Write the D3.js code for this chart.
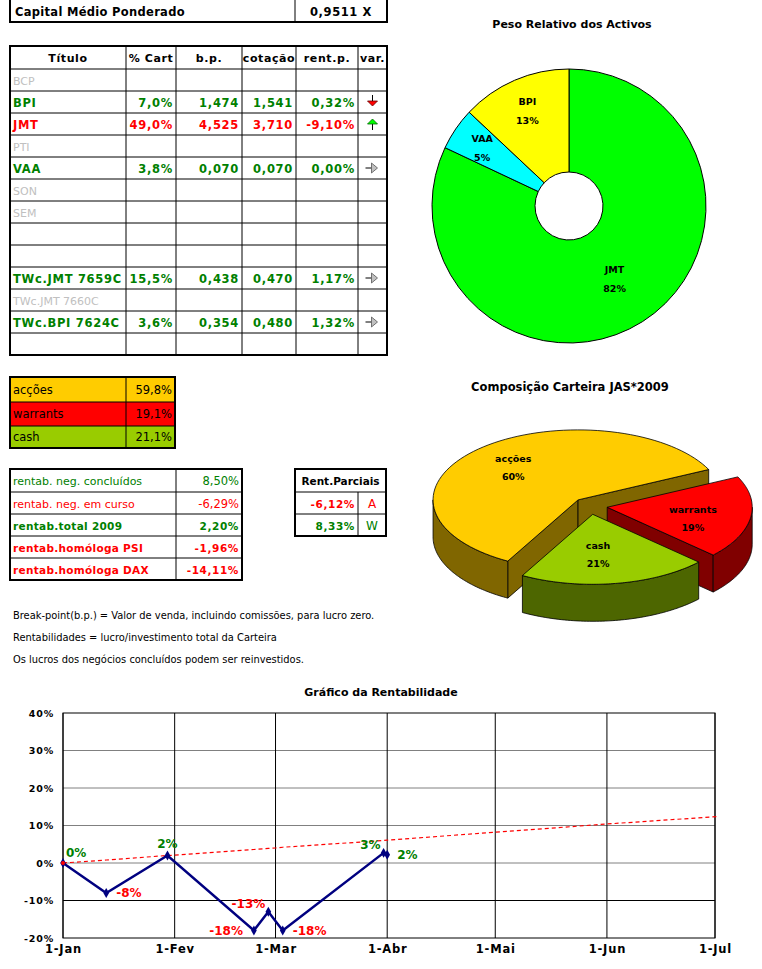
<!DOCTYPE html>
<html><head><meta charset="utf-8">
<script src="https://cdn.jsdelivr.net/npm/d3@7"></script>
<style>body{margin:0;background:#fff}svg{display:block}text{font-family:"DejaVu Sans",sans-serif}</style>
</head><body><svg id="c" width="762" height="969"></svg>
<script>
// ---------------- DATA ----------------
const capitalLabel = "Capital Médio Ponderado";
const capitalValue = 0.9511;
const headers = ["Título","% Cart","b.p.","cotação","rent.p.","var."];
const titulos = ["BCP","BPI","JMT","PTI","VAA","SON","SEM","","","TWc.JMT 7659C","TWc.JMT 7660C","TWc.BPI 7624C",""];
const activo  = [false,true,true,false,true,false,false,false,false,true,false,true,false];
const pctCart = [null,7.0,49.0,null,3.8,null,null,null,null,15.5,null,3.6,null];
const breakPoint = [null,1.474,4.525,null,0.070,null,null,null,null,0.438,null,0.354,null];
const cotacao = [null,1.541,3.710,null,0.070,null,null,null,null,0.470,null,0.480,null];
const rentP   = [null,0.32,-9.10,null,0.00,null,null,null,null,1.17,null,1.32,null];
const variacao = [null,"down","up",null,"flat",null,null,null,null,"flat",null,"flat",null];

const classes = ["acções","warrants","cash"];
const alocacao = [59.8,19.1,21.1];

const rentLabels = ["rentab. neg. concluídos","rentab. neg. em curso","rentab.total 2009","rentab.homóloga PSI","rentab.homóloga DAX"];
const rentValues = [8.50,-6.29,2.20,-1.96,-14.11];
const parciaisTitle = "Rent.Parciais";
const parciaisValues = [-6.12, 8.33];
const parciaisLabels = ["A","W"];

const notes = ["Break-point(b.p.) = Valor de venda, incluindo comissões, para lucro zero.",
               "Rentabilidades = lucro/investimento total da Carteira",
               "Os lucros dos negócios concluídos podem ser reinvestidos."];

const pesoTitle = "Peso Relativo dos Activos";
const pesoLabels = ["JMT","VAA","BPI"];
const pesoValues = [82,5,13];

const compTitle = "Composição Carteira JAS*2009";

const chartTitle = "Gráfico da Rentabilidade";
const rentDates  = ["2009-01-01","2009-01-13","2009-01-30","2009-02-23","2009-02-27","2009-03-03","2009-03-31","2009-04-01"];
const rentSeries = [0,-8,2,-18,-13,-18,2.7,2.2];
const labelSide  = ["ne","e","n","w","nw","e","nw","e"];
const benchDates  = ["2009-01-01","2009-01-13","2009-01-30","2009-02-01","2009-02-23","2009-02-27","2009-03-01","2009-03-03","2009-03-31","2009-04-01","2009-05-01","2009-06-01","2009-07-02"];
const benchValues = [0,0.8,2.0,2.1,3.6,3.9,4.0,4.2,6.0,6.1,8.2,10.4,12.4];
const yTicks = [-20,-10,0,10,20,30,40];
const meses = ["Jan","Fev","Mar","Abr","Mai","Jun","Jul","Ago","Set","Out","Nov","Dez"];

// ---------------- DRAW ----------------
const svg = d3.select("#c");
svg.append("rect").attr("width",762).attr("height",969).attr("fill","#fff");
const GREEN="#008000", RED="#ff0000", GRAY="#c0c0c0";
const loc = d3.formatLocale({decimal:",",thousands:".",grouping:[3],currency:["","€"],minus:"-"});
const f1=loc.format(".1f"), f2=loc.format(".2f"), f3=loc.format(".3f"), f4=loc.format(".4f");

function txt(x,y,s,o={}){
  return svg.append("text").attr("x",x).attr("y",y).text(s)
    .attr("text-anchor",o.anchor||"start").attr("fill",o.color||"#000")
    .attr("font-weight",o.weight||"normal").attr("font-size",o.size||11)
    .attr("font-style",o.style||"normal")
    .attr("letter-spacing",o.ls||0);
}
function grid(xs,ys,opt={}){
  const g=svg.append("g");
  xs.slice(1,-1).forEach(x=>g.append("line").attr("x1",x).attr("x2",x).attr("y1",ys[0]).attr("y2",ys[ys.length-1]).attr("stroke","#000").attr("stroke-width",1));
  ys.slice(1,-1).forEach(y=>g.append("line").attr("x1",xs[0]).attr("x2",xs[xs.length-1]).attr("y1",y).attr("y2",y).attr("stroke","#000").attr("stroke-width",1));
  g.append("rect").attr("x",xs[0]).attr("y",ys[0]).attr("width",xs[xs.length-1]-xs[0]).attr("height",ys[ys.length-1]-ys[0])
    .attr("fill","none").attr("stroke","#000").attr("stroke-width",2);
  return g;
}

// Capital box
grid([10,295,387],[-4,22]);
txt(15,16,capitalLabel,{weight:"bold",size:11.5,ls:0.3});
txt(341,16,f4(capitalValue)+" X",{weight:"bold",size:11.5,anchor:"middle",ls:0.6});

// main table
const tx=[10,126,176,242,296,358,387];
const ty=[46].concat(d3.range(titulos.length+1).map(i=>69+22*i));
grid(tx,ty);
headers.forEach((h,i)=>txt((tx[i]+tx[i+1])/2,62,h,{weight:"bold",size:11,anchor:"middle",ls:0.6}));
titulos.forEach((t,i)=>{
  const y=ty[i+1]+16;
  if(!activo[i]){ if(t) txt(13,y,t,{color:GRAY,size:11}); return; }
  const col = rentP[i]<0?RED:GREEN;
  const o={color:col,weight:"bold",size:11.5,ls:0.7};
  txt(13,y,t,o);
  txt(tx[2]-3,y,f1(pctCart[i])+"%",{...o,anchor:"end"});
  txt(tx[3]-3,y,f3(breakPoint[i]),{...o,anchor:"end"});
  txt(tx[4]-3,y,f3(cotacao[i]),{...o,anchor:"end"});
  txt(tx[5]-3,y,f2(rentP[i])+"%",{...o,anchor:"end"});
  const cx=(tx[5]+tx[6])/2, cy=ty[i+1]+11;
  const g=svg.append("g").attr("transform",`translate(${cx},${cy})`);
  if(variacao[i]==="down"){
    g.append("line").attr("x1",0).attr("x2",0).attr("y1",-7).attr("y2",-1).attr("stroke","#000");
    g.append("path").attr("d","M-5,-1L5,-1L0,4Z").attr("fill","#ff0000").attr("stroke","#600").attr("stroke-width",0.8);
  } else if(variacao[i]==="up"){
    g.append("line").attr("x1",0).attr("x2",0).attr("y1",0).attr("y2",6).attr("stroke","#000");
    g.append("path").attr("d","M-5,0L5,0L0,-5Z").attr("fill","#00ff00").attr("stroke","#060").attr("stroke-width",0.8);
  } else {
    g.append("line").attr("x1",-7).attr("x2",-1).attr("y1",0).attr("y2",0).attr("stroke","#000");
    g.append("path").attr("d","M-1,-5L-1,5L5,0Z").attr("fill","#c0c0c0").attr("stroke","#555").attr("stroke-width",0.8);
  }
});

// allocation table
const ax=[10,126,175], ay=[377,402,426,448];
const alocColor=["#ffcc00","#ff0000","#99cc00"];
classes.forEach((c,i)=>{
  svg.append("rect").attr("x",ax[0]).attr("y",ay[i]).attr("width",ax[2]-ax[0]).attr("height",ay[i+1]-ay[i]).attr("fill",alocColor[i]);
});
grid(ax,ay);
classes.forEach((c,i)=>{
  const y=(ay[i]+ay[i+1])/2+4;
  txt(13,y,c,{size:11.5});
  txt(ax[2]-3,y,f1(alocacao[i])+"%",{size:11.5,anchor:"end"});
});

// rentab table
const rx=[10,176,242], ry=[469,492,514,536,558,580];
grid(rx,ry);
rentLabels.forEach((l,i)=>{
  const v=rentValues[i], col=v<0?RED:GREEN, b=i>=2;
  const y=ry[i]+16;
  txt(13,y,l,{color:col,weight:b?"bold":"normal",size:b?10.5:11,ls:b?0.3:0});
  txt(rx[2]-3,y,f2(v)+"%",{color:col,weight:b?"bold":"normal",size:b?10.5:11.5,anchor:"end",ls:b?0.6:0});
});

// rent parciais
const px=[295,358,386], py=[469,492,514,536];
const pg=svg.append("g");
pg.append("line").attr("x1",px[0]).attr("x2",px[2]).attr("y1",py[1]).attr("y2",py[1]).attr("stroke","#000");
pg.append("line").attr("x1",px[0]).attr("x2",px[2]).attr("y1",py[2]).attr("y2",py[2]).attr("stroke","#000");
pg.append("line").attr("x1",px[1]).attr("x2",px[1]).attr("y1",py[1]).attr("y2",py[3]).attr("stroke","#000");
pg.append("rect").attr("x",px[0]).attr("y",py[0]).attr("width",px[2]-px[0]).attr("height",py[3]-py[0]).attr("fill","none").attr("stroke","#000").attr("stroke-width",2);
txt((px[0]+px[2])/2,py[0]+16,parciaisTitle,{weight:"bold",size:10.5,anchor:"middle"});
parciaisValues.forEach((v,i)=>{
  const col=v<0?RED:GREEN, y=py[i+1]+16;
  txt(px[1]-3,y,f2(v)+"%",{color:col,weight:"bold",size:10.5,anchor:"end",ls:0.6});
  txt((px[1]+px[2])/2,y,parciaisLabels[i],{color:col,size:12,anchor:"middle"});
});

// notes
notes.forEach((n,i)=>txt(13,619+22*i,n,{size:9.9}));

// ---------------- Donut ----------------
txt(572,28,pesoTitle,{weight:"bold",size:11,anchor:"middle"});
const dCx=569,dCy=206,dR=137,dr=34;
const donutColors=["#00ff00","#00ffff","#ffff00"];
const dpie=d3.pie().sort(null).value(d=>d)(pesoValues);
const darc=d3.arc().innerRadius(dr).outerRadius(dR);
const dg=svg.append("g").attr("transform",`translate(${dCx},${dCy})`);
dg.selectAll("path").data(dpie).join("path").attr("d",darc)
  .attr("fill",(d,i)=>donutColors[i]).attr("stroke","#000").attr("stroke-width",1);
dpie.forEach((d,i)=>{
  const lr = pesoValues[i]>20?85:105;
  const c=d3.arc().innerRadius(lr).outerRadius(lr).centroid(d);
  dg.append("text").attr("x",c[0]).attr("y",c[1]-5).attr("text-anchor","middle").attr("font-size",9.5).attr("font-weight","bold").text(pesoLabels[i]);
  dg.append("text").attr("x",c[0]).attr("y",c[1]+14).attr("text-anchor","middle").attr("font-size",9.5).attr("font-weight","bold").text(Math.round(d.value/d3.sum(pesoValues)*100)+"%");
});

// ---------------- 3D Pie ----------------
txt(570,391,compTitle,{weight:"bold",size:11.5,anchor:"middle"});
const P3 = {cx:590,cy:506,rx:145,ry:70,depth:37,explode:[0.12,0.12,0.12]};
const topCol=["#ffcc00","#ff0000","#99cc00"], sideCol=["#806600","#800000","#4d6600"];
const p3=d3.pie().sort(null).startAngle(209*Math.PI/180).endAngle(569*Math.PI/180)(alocacao);
const g3=svg.append("g");
const pt=(c,t,dy=0)=>[c[0]+P3.rx*Math.cos(t), c[1]+P3.ry*Math.sin(t)+dy];
const line=d3.line();
p3.forEach((d,i)=>{
  const t0=d.startAngle-Math.PI/2, t1=d.endAngle-Math.PI/2, tm=(t0+t1)/2;
  const e=P3.explode[i];
  const c=[P3.cx+e*P3.rx*Math.cos(tm), P3.cy+e*P3.ry*Math.sin(tm)];
  const D=P3.depth;
  const g=g3.append("g");
  const faces=[];
  if(Math.cos(t0)<0) faces.push(t0);
  if(Math.cos(t1)>0) faces.push(t1);
  faces.forEach(t=>{
    const E=pt(c,t);
    g.append("path").attr("d",line([c,E,[E[0],E[1]+D],[c[0],c[1]+D]])+"Z")
      .attr("fill",sideCol[i]).attr("stroke","#000").attr("stroke-width",0.8);
  });
  const a=((t0%(2*Math.PI))+2*Math.PI)%(2*Math.PI), b=a+(t1-t0);
  [[0,Math.PI],[2*Math.PI,3*Math.PI]].forEach(([lo,hi])=>{
    const s=Math.max(a,lo), en=Math.min(b,hi);
    if(en>s){
      const ts=d3.range(0,61).map(k=>s+(en-s)*k/60);
      const topPts=ts.map(t=>pt(c,t)), botPts=ts.slice().reverse().map(t=>pt(c,t,D));
      g.append("path").attr("d",line(topPts.concat(botPts))+"Z")
        .attr("fill",sideCol[i]).attr("stroke","#000").attr("stroke-width",0.8);
    }
  });
  const ts=d3.range(0,81).map(k=>t0+(t1-t0)*k/80);
  g.append("path").attr("d",line([c].concat(ts.map(t=>pt(c,t))))+"Z")
    .attr("fill",topCol[i]).attr("stroke","#000").attr("stroke-width",0.8);
  d.c=c; d.tm=tm;
});
const nudge=[[-15,-8],[14,4],[-6,4]];
p3.forEach((d,i)=>{
  const L=[d.c[0]+0.5*P3.rx*Math.cos(d.tm)+nudge[i][0], d.c[1]+0.5*P3.ry*Math.sin(d.tm)+nudge[i][1]];
  txt(L[0],L[1]-4,classes[i],{weight:"bold",size:9.5,anchor:"middle"});
  txt(L[0],L[1]+14,Math.round(d.value)+"%",{weight:"bold",size:9.5,anchor:"middle"});
});

// ---------------- Line chart ----------------
txt(381,696,chartTitle,{weight:"bold",size:11,anchor:"middle"});
const parse=d3.timeParse("%Y-%m-%d");
const x=d3.scaleTime().domain([parse("2009-01-01"),parse("2009-07-01")]).range([63,715]);
const y=d3.scaleLinear().domain([-20,40]).range([938,713]);
const lg=svg.append("g");
yTicks.forEach(v=>{
  if(v===-20||v===40) return;
  lg.append("line").attr("x1",63).attr("x2",715).attr("y1",y(v)).attr("y2",y(v))
    .attr("stroke",v===-10?"#000":"#808080").attr("stroke-width",1);
});
const months=d3.timeMonth.range(parse("2009-01-01"),parse("2009-07-02"));
months.forEach(m=>{
  lg.append("line").attr("x1",x(m)).attr("x2",x(m)).attr("y1",713).attr("y2",938).attr("stroke","#000");
});
lg.append("rect").attr("x",63).attr("y",713).attr("width",652).attr("height",225).attr("fill","none").attr("stroke","#000");
const yAxis=svg.append("g").attr("transform","translate(63,0)")
  .call(d3.axisLeft(y).tickValues(yTicks).tickSize(0).tickPadding(9).tickFormat(d=>d+"%"));
yAxis.select(".domain").remove();
yAxis.selectAll("text").attr("font-family","DejaVu Sans").attr("font-size",9.5).attr("font-weight","bold").attr("letter-spacing",0.8).attr("fill","#000");
const xAxis=svg.append("g").attr("transform","translate(0,938)")
  .call(d3.axisBottom(x).tickValues(months).tickSize(0).tickPadding(7).tickFormat(d=>"1-"+meses[d.getMonth()]));
xAxis.select(".domain").remove();
xAxis.selectAll("text").attr("font-family","DejaVu Sans").attr("font-size",11.5).attr("font-weight","bold").attr("letter-spacing",0.8).attr("fill","#000");

const bench=benchDates.map((d,i)=>[parse(d),benchValues[i]]);
lg.append("path").attr("d",d3.line().x(d=>x(d[0])).y(d=>y(d[1]))(bench))
  .attr("fill","none").attr("stroke","#ff0000").attr("stroke-width",1.2).attr("stroke-dasharray","4,3");
const ser=rentDates.map((d,i)=>[parse(d),rentSeries[i]]);
lg.append("path").attr("d",d3.line().x(d=>x(d[0])).y(d=>y(d[1]))(ser))
  .attr("fill","none").attr("stroke","#000080").attr("stroke-width",2.5);
lg.selectAll("path.mk").data(ser).join("path").attr("class","mk")
  .attr("transform",d=>`translate(${x(d[0])},${y(d[1])})`)
  .attr("d",d3.symbol(d3.symbolDiamond,28)).attr("fill","#000080");
svg.append("circle").attr("cx",x(bench[0][0])).attr("cy",y(bench[0][1])).attr("r",2).attr("fill","#ff0000");
const off={ne:[3,-6,"start"],e:[10,4,"start"],n:[0,-8,"middle"],w:[-11,4,"end"],nw:[-3,-4,"end"]};
ser.forEach((d,i)=>{
  const o=off[labelSide[i]];
  txt(x(d[0])+o[0],y(d[1])+o[1],Math.round(d[1])+"%",{weight:"bold",size:12,anchor:o[2],color:d[1]<0?RED:GREEN});
});
</script></body></html>
